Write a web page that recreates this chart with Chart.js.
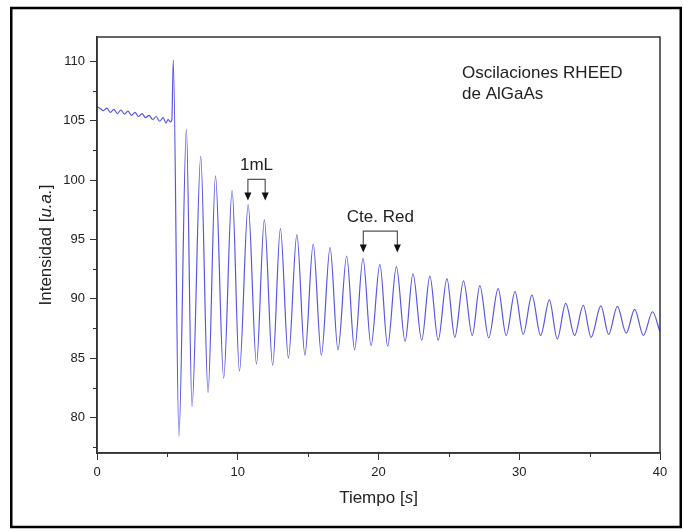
<!DOCTYPE html>
<html>
<head>
<meta charset="utf-8">
<script src="https://cdn.jsdelivr.net/npm/chart.js@4/dist/chart.umd.min.js"></script>
<style>
  html, body { margin: 0; padding: 0; background: #fff; }
  #wrap { width: 683px; height: 531px; position: relative; }
</style>
</head>
<body>
<div id="wrap"><canvas id="rheed"></canvas></div>
<script>
// RHEED trace (time in s, intensity in a.u.)
const timeSec = [
  0, 0.25, 0.45, 0.7, 0.95, 1.2, 1.45, 1.7, 1.95, 2.2, 2.45, 2.7, 2.95, 3.2, 3.45, 3.7, 3.95, 4.2, 4.45, 4.7, 4.9, 5.05, 5.2, 5.32,
  5.42, 5.82, 6.35, 6.75, 7.37, 7.89, 8.42, 9.0, 9.6, 10.12, 10.74, 11.33, 11.89, 12.48, 13.03, 13.6,
  14.2, 14.77, 15.36, 15.94, 16.56, 17.12, 17.74, 18.3, 18.9, 19.47, 20.1, 20.65, 21.27, 21.89,
  22.45, 23.07, 23.65, 24.24, 24.86, 25.42, 26.04, 26.66, 27.2, 27.83, 28.5, 29.07, 29.7, 30.28,
  30.9, 31.52, 32.14, 32.7, 33.3, 33.93, 34.55, 35.1, 35.8, 36.35, 36.97, 37.6, 38.2, 38.82, 39.47, 40
];
const intensity = [
  106.2, 106.0, 105.85, 106.05, 105.7, 105.95, 105.6, 105.9, 105.55, 105.8, 105.45, 105.7, 105.35, 105.6, 105.25, 105.45, 105.1, 105.35, 104.95, 105.25, 104.8, 105.1, 104.9, 105.1,
  110.1, 78.4, 104.3, 80.9, 102.0, 82.1, 100.35, 83.3, 99.1, 83.9, 97.9, 84.5, 96.65, 84.4, 95.9, 85.0,
  95.4, 85.25, 94.6, 85.25, 94.3, 85.7, 93.6, 85.7, 93.4, 86.05, 92.9, 86.0, 92.7, 86.4,
  92.1, 86.5, 91.9, 86.5, 91.7, 86.75, 91.5, 86.9, 91.1, 86.7, 90.85, 86.9, 90.6, 87.0,
  90.3, 86.9, 89.9, 86.6, 89.6, 86.9, 89.45, 86.75, 89.4, 87.0, 89.35, 87.1, 89.1, 86.9, 88.9, 87.2
];

const xTicks = [0, 10, 20, 30, 40];
const yTicks = [80, 85, 90, 95, 100, 105, 110];
const xMinor = [5, 15, 25, 35];
const yMinor = [77.5, 82.5, 87.5, 92.5, 97.5, 102.5, 107.5];

// bracket annotations: label, start time, end time
const noteLabels = ["1mL", "Cte. Red"];
const noteFrom = [10.72, 18.92];
const noteTo = [11.95, 21.34];
const noteTop = [100.05, 95.7];    // height of the bracket bar
const noteTip = [98.27, 93.9];     // height of the arrow tips

const FONT = 'Arial, "Liberation Sans", sans-serif';
const AXIS = '#333';

function mixedText(ctx, parts, size) {
  // parts: [text, italic?] drawn centred on 0,0
  let total = 0;
  const widths = parts.map(p => {
    ctx.font = (p[1] ? 'italic ' : '') + size + 'px ' + FONT;
    const w = ctx.measureText(p[0]).width;
    total += w;
    return w;
  });
  let x = -total / 2;
  parts.forEach((p, i) => {
    ctx.font = (p[1] ? 'italic ' : '') + size + 'px ' + FONT;
    ctx.fillText(p[0], x, 0);
    x += widths[i];
  });
}

const extras = {
  id: 'extras',
  afterDraw(chart) {
    const ctx = chart.ctx;
    const xs = chart.scales.x, ys = chart.scales.y;
    const { left, top, right, bottom } = chart.chartArea;
    ctx.save();

    // plot box
    ctx.strokeStyle = AXIS;
    ctx.lineWidth = 1.5;
    ctx.strokeRect(left, top, right - left, bottom - top);

    // minor ticks
    ctx.lineWidth = 1;
    ctx.beginPath();
    xMinor.forEach(v => {
      const px = Math.round(xs.getPixelForValue(v)) + 0.5;
      ctx.moveTo(px, bottom); ctx.lineTo(px, bottom + 4);
    });
    yMinor.forEach(v => {
      const py = Math.round(ys.getPixelForValue(v)) + 0.5;
      ctx.moveTo(left, py); ctx.lineTo(left - 4, py);
    });
    ctx.stroke();

    // axis titles
    ctx.fillStyle = '#222';
    ctx.textBaseline = 'middle';
    ctx.textAlign = 'left';
    ctx.save();
    ctx.translate((left + right) / 2, 498);
    mixedText(ctx, [['Tiempo [', false], ['s', true], [']', false]], 17);
    ctx.restore();
    ctx.save();
    ctx.translate(46, (top + bottom) / 2);
    ctx.rotate(-Math.PI / 2);
    mixedText(ctx, [['Intensidad [', false], ['u.a.', true], [']', false]], 17);
    ctx.restore();

    // figure label
    ctx.font = '17px ' + FONT;
    ctx.fillText('Oscilaciones RHEED', 462, 73);
    ctx.fillText('de AlGaAs', 462, 94);

    // bracket annotations
    noteLabels.forEach((lab, i) => {
      const x1 = xs.getPixelForValue(noteFrom[i]);
      const x2 = xs.getPixelForValue(noteTo[i]);
      const yb = ys.getPixelForValue(noteTop[i]);
      const yt = ys.getPixelForValue(noteTip[i]);
      ctx.strokeStyle = '#555';
      ctx.lineWidth = 1.2;
      ctx.beginPath();
      ctx.moveTo(x1, yt - 6); ctx.lineTo(x1, yb); ctx.lineTo(x2, yb); ctx.lineTo(x2, yt - 6);
      ctx.stroke();
      ctx.fillStyle = '#111';
      [x1, x2].forEach(x => {
        ctx.beginPath();
        ctx.moveTo(x - 3.5, yt - 8); ctx.lineTo(x + 3.5, yt - 8); ctx.lineTo(x, yt);
        ctx.closePath();
        ctx.fill();
      });
      ctx.fillStyle = '#222';
      ctx.font = '17px ' + FONT;
      ctx.textAlign = 'center';
      ctx.fillText(lab, (x1 + x2) / 2, yb - 14);
      ctx.textAlign = 'left';
    });

    // outer frame
    ctx.strokeStyle = '#000';
    ctx.lineWidth = 2.5;
    ctx.strokeRect(11.25, 8, 669.5, 519);
    ctx.restore();
  }
};

new Chart(document.getElementById('rheed'), {
  type: 'line',
  data: {
    datasets: [{
      data: timeSec.map((t, i) => ({ x: t, y: intensity[i] })),
      borderColor: '#5757e0',
      borderWidth: 1.2,
      pointRadius: 0,
      cubicInterpolationMode: 'monotone',
      fill: false
    }]
  },
  plugins: [extras],
  options: {
    responsive: true,
    maintainAspectRatio: false,
    animation: false,
    layout: { padding: { top: 37, right: 23, left: 0, bottom: 0 } },
    plugins: { legend: { display: false }, tooltip: { enabled: false } },
    scales: {
      x: {
        type: 'linear',
        min: 0, max: 40,
        afterBuildTicks: s => { s.ticks = xTicks.map(v => ({ value: v })); },
        afterFit: s => { s.height = 78; },
        grid: { drawOnChartArea: false, drawTicks: true, tickLength: 7, color: AXIS, lineWidth: 1 },
        border: { color: AXIS, width: 1.5 },
        ticks: { color: '#222', padding: 5, maxRotation: 0, font: { size: 13, family: FONT } }
      },
      y: {
        min: 77, max: 112.05,
        afterBuildTicks: s => { s.ticks = yTicks.map(v => ({ value: v })); },
        afterFit: s => { s.width = 97; },
        grid: { drawOnChartArea: false, drawTicks: true, tickLength: 7, color: AXIS, lineWidth: 1 },
        border: { color: AXIS, width: 1.5 },
        ticks: { color: '#222', padding: 5, font: { size: 13, family: FONT } }
      }
    }
  }
});
</script>
</body>
</html>
